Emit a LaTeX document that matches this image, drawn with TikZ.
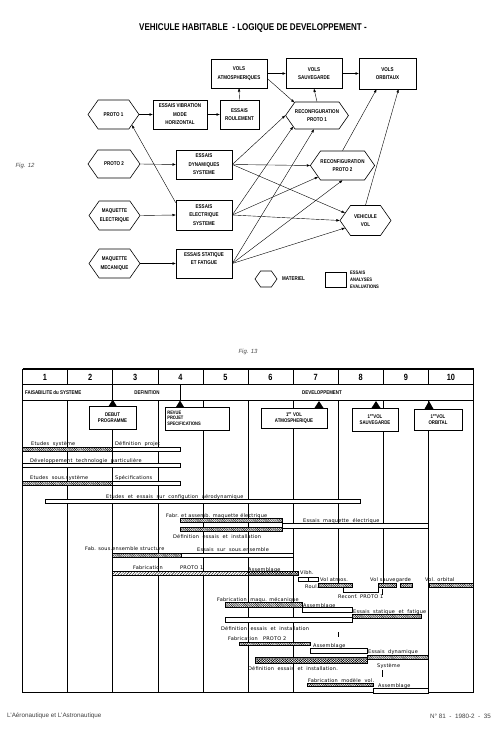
\documentclass[tikz,border=0pt]{standalone}
\usepackage{fontspec}
\setmainfont{Liberation Sans}
\newfontfamily\cond[FakeStretch=0.82]{Liberation Sans}
\newfontfamily\gfont[LetterSpace=4]{DejaVu Sans}
\usetikzlibrary{shapes.symbols,arrows.meta,patterns.meta}
\tikzset{
  boxf/.style={font=\cond\bfseries\fontsize{5.5}{8.4}\selectfont},
  box/.style={boxf, draw, line width=0.6pt, fill=white, inner sep=0pt, align=center},
  hex/.style={boxf, signal, signal to=east and west, signal pointer angle=110, draw, line width=0.6pt, fill=white, inner sep=0pt, align=center},
  arr/.style={-{Triangle[length=3.2pt,width=2.4pt]}, line width=0.4pt},
  mk/.style={draw, line width=0.7pt, fill=white, inner sep=0pt, align=center, font=\cond\bfseries\fontsize{5.3}{6.5}\selectfont},
  gt/.style={anchor=base west, inner sep=0pt, font=\gfont\fontsize{5}{6}\selectfont},
  wbar/.style={draw, fill=white, line width=0.5pt},
  hbar/.style={draw, line width=0.5pt, preaction={fill=white}, pattern={Lines[angle=-45,distance=1.3pt,line width=0.4pt]}},
  sbar/.style={draw, line width=0.5pt, preaction={fill=white}, pattern={Lines[angle=45,distance=2pt,line width=0.4pt]}},
  xbar/.style={draw, line width=0.5pt, preaction={fill=white}, pattern={Hatch[angle=45,distance=1.8pt,line width=0.4pt]}},
  tri/.style={fill=black},
  grid/.style={line width=0.5pt},
}
\begin{document}
\begin{tikzpicture}[x=1pt,y=-1pt]
\useasboundingbox (0,0) rectangle (500,738);
\fill[white] (0,0) rectangle (500,738);

% ---------------- Fig 12 ----------------
\node[font=\cond\bfseries\fontsize{9.8}{10}\selectfont, inner sep=0] (title) at (253,28) {VEHICULE HABITABLE\ \ - LOGIQUE DE DEVELOPPEMENT -};
\node[font=\itshape\fontsize{6}{7}\selectfont, text=black!70, inner sep=0] (fig12) at (25,166) {Fig. 12};
\node[font=\itshape\fontsize{6}{7}\selectfont, text=black!70, inner sep=0] (fig13) at (248,352) {Fig. 13};

\node[box, minimum width=56, minimum height=29] (va) at (239,73.5) {VOLS\\ATMOSPHERIQUES};
\node[box, minimum width=56, minimum height=30] (vs) at (314,73.5) {VOLS\\SAUVEGARDE};
\node[box, minimum width=57, minimum height=31] (vo) at (387.5,73.5) {VOLS\\ORBITAUX};
\node[box, minimum width=54, minimum height=29] (evib) at (180,114.5) {ESSAIS VIBRATION\\MODE\\HORIZONTAL};
\node[box, minimum width=39, minimum height=29] (erou) at (239.5,114.5) {ESSAIS\\ROULEMENT};
\node[box, minimum width=56, minimum height=29] (edyn) at (204,164.5) {ESSAIS\\DYNAMIQUES\\SYSTEME};
\node[box, minimum width=56, minimum height=30] (eelec) at (204,215) {ESSAIS\\ELECTRIQUE\\SYSTEME};
\node[box, minimum width=56, minimum height=29] (estat) at (204,263.5) {};
\node[boxf, align=center, inner sep=0, anchor=north] (estatt) at (204,252.5) {ESSAIS STATIQUE\\ET FATIGUE};

\node[hex, minimum width=51, minimum height=29] (p1) at (113.5,114.5) {PROTO 1};
\node[hex, minimum width=52, minimum height=28] (p2) at (114,164) {PROTO 2};
\node[hex, minimum width=51, minimum height=29] (me) at (114.5,215.5) {MAQUETTE\\ELECTRIQUE};
\node[hex, minimum width=51, minimum height=29] (mm) at (114.5,263.5) {MAQUETTE\\MECANIQUE};
\node[hex, minimum width=58, minimum height=27] (rp1) at (317,115.5) {RECONFIGURATION\\PROTO 1};
\node[hex, minimum width=59, minimum height=29] (rp2) at (342.5,165.5) {RECONFIGURATION\\PROTO 2};
\node[hex, minimum width=51, minimum height=30] (vv) at (365.5,220.5) {VEHICULE\\VOL};

\node[hex, minimum width=22, minimum height=16] (lh) at (266,279) {};
\node[boxf, anchor=west, inner sep=0] (lht) at (282,279) {MATERIEL};
\node[box, minimum width=21, minimum height=15] (lr) at (335.5,279.5) {};
\node[boxf, font=\cond\bfseries\fontsize{5}{7}\selectfont, anchor=west, align=left, inner sep=0] (lrt) at (350,279.5) {ESSAIS\\ANALYSES\\EVALUATIONS};

\draw[arr] (p1.east) -- (evib.west);
\draw[arr] (evib.east) -- (erou.west);
\draw[arr] (erou.north) -- (va.south);
\draw[arr] (va.east) -- (vs.west);
\draw[arr] (vs.east) -- (vo.west);
\draw[arr] ([yshift=-5pt]va.east) -- (rp1.150);
\draw[arr] (rp1.north) -- (vs.south);
\draw[arr] ([yshift=-3pt]eelec.north west) -- (p1.-30);
\draw[arr] (p2.east) -- (edyn.west);
\draw[arr] (me.east) -- (eelec.west);
\draw[arr] (mm.east) -- (estat.west);
\draw[arr] (edyn.east) -- (rp1.west);
\draw[arr] (edyn.east) -- (rp2.west);
\draw[arr] (edyn.east) -- (vv.160);
\draw[arr] (eelec.east) -- (rp1.205);
\draw[arr] (eelec.east) -- (rp2.205);
\draw[arr] (eelec.east) -- (vv.west);
\draw[arr] (estat.east) -- ([xshift=-3pt]rp1.south);
\draw[arr] (estat.east) -- (rp2.south);
\draw[arr] (estat.east) -- (vv.200);
\draw[arr] (rp2.north) -- ([xshift=-11pt]vo.south);
\draw[arr] (vv.north) -- ([xshift=11pt]vo.south);

% ---------------- Fig 13 ----------------
\foreach \i in {1,...,9} {
  \draw[grid] ({22.5+45.1*\i},369) -- ({22.5+45.1*\i},384);
}
\foreach \i in {1,2,3,4,5,6,9} {
  \draw[grid] ({22.5+45.1*\i},400) -- ({22.5+45.1*\i},692);
}
\draw[grid] (338.2,400) -- (338.2,583);
\draw[grid] (383.3,400) -- (383.3,583);
\draw[grid] (338.2,632) -- (338.2,637);
\draw[grid] (382.5,589) -- (382.5,595);
\draw[grid] (382.5,670) -- (382.5,677);
\draw[grid] (112.7,384) -- (112.7,400);
\draw[grid] (180,384) -- (180,401);
\draw[line width=1.3pt] (22.5,369) -- (473.5,369);
\draw[line width=0.6pt] (22.5,384) -- (473.5,384);
\draw[line width=1pt] (22.5,400) -- (473.5,400);
\draw[line width=0.7pt] (22.5,369) -- (22.5,692) -- (473.5,692) -- (473.5,369);

\foreach \n [count=\k] in {1,...,10} {
  \node[font=\cond\bfseries\fontsize{9}{10}\selectfont, inner sep=0] (num\k) at ({45+45.1*(\k-1)},377) {\n};
}
\node[font=\cond\bfseries\fontsize{5.4}{6}\selectfont, anchor=west, inner sep=0] (ph1) at (25,392.5) {FAISABILITE du SYSTEME};
\node[font=\cond\bfseries\fontsize{5.4}{6}\selectfont, inner sep=0] (ph2) at (147,392.5) {DEFINITION};
\node[font=\cond\bfseries\fontsize{5.4}{6}\selectfont, inner sep=0] (ph3) at (322,392.5) {DEVELOPPEMENT};

% markers
\node[mk, minimum width=47, minimum height=23] (mk1) at (112.5,417.5) {DEBUT\\PROGRAMME};
\fill[tri] (112.7,399.5) -- (116.7,406) -- (108.7,406) -- cycle;
\node[mk, minimum width=64, minimum height=23] (mk2) at (197,418.5) {};
\node[mk, draw=none, fill=none, anchor=west, align=left, font=\cond\bfseries\fontsize{4.9}{5.6}\selectfont] (mk2t) at (167,418) {REVUE\\PROJET\\SPECIFICATIONS};
\fill[tri] (180,400.5) -- (184,407) -- (176,407) -- cycle;
\node[mk, minimum width=66, minimum height=20] (mk3) at (294,418) {1\textsuperscript{er} VOL\\ATMOSPHERIQUE};
\fill[tri] (319,401) -- (323.5,408) -- (314.5,408) -- cycle;
\node[mk, minimum width=46, minimum height=23] (mk4) at (375,419.5) {1\textsuperscript{er}VOL\\SAUVEGARDE};
\fill[tri] (376,401) -- (380.5,408) -- (371.5,408) -- cycle;
\node[mk, minimum width=48, minimum height=21] (mk5) at (438,419.5) {1\textsuperscript{er}VOL\\ORBITAL};
\fill[tri] (429,401) -- (433.5,409) -- (424.5,409) -- cycle;

% bars
\draw[wbar] (22.5,447) rectangle (180,451);
\draw[hbar] (22.5,447) rectangle (112.7,451);
\draw[wbar] (22.5,463) rectangle (180,467);
\draw[wbar] (22.5,481) rectangle (180,485);
\draw[hbar] (22.5,481) rectangle (112.7,485);
\draw[wbar] (45,499) rectangle (360,503);

\draw[hbar] (180,518) rectangle (282,522);
\draw[hbar] (180,527) rectangle (282,531);
\draw[wbar] (282,523) rectangle (428,528);

\draw[wbar] (112.7,553) rectangle (293,557);
\draw[hbar] (112.7,553) rectangle (181,557);

\draw[sbar] (112.7,571) rectangle (248,575);
\draw[xbar] (248,571) rectangle (298,575);
\draw[wbar] (298.5,577) rectangle (308.5,581);
\draw[wbar] (308.5,577) rectangle (318,581);
\draw[line width=0.5pt] (343,587) -- (343,592) -- (378,592) -- (378,587);
\draw[hbar] (318,583) rectangle (352,587);
\draw[hbar] (378,583) rectangle (396,587);
\draw[hbar] (400,583) rectangle (412,587);
\draw[hbar] (429,583) rectangle (473,587);

\draw[hbar] (225,602) rectangle (302,607);
\draw[wbar] (302,607) rectangle (352,612);
\draw[hbar] (352,614) rectangle (421,618);
\draw[wbar] (225,617) rectangle (352,622);

\draw[hbar] (239,642) rectangle (310,645.5);
\draw[wbar] (310,648) rectangle (367,653);
\draw[hbar] (367,655) rectangle (428,659);
\draw[xbar] (255,657) rectangle (367,663);

\draw[hbar] (307,683) rectangle (373,686);
\draw[wbar] (373,688) rectangle (428,693);

% bar texts
\node[gt] (g1) at (31,445) {Etudes\ \ système};
\node[gt] (g2) at (115,445) {Définition\ \ projet};
\node[gt] (g3) at (30,462) {Développement\ \ technologie\ \ particulière};
\node[gt] (g4) at (30,479) {Etudes\ \ sous.système};
\node[gt] (g5) at (115,479) {Spécifications};
\node[gt] (g6) at (106,498) {Etudes\ \ et\ \ essais\ \ sur\ \ configution\ \ aérodynamique};
\node[gt] (g7) at (166,517) {Fabr. et assemb. maquette électrique};
\node[gt] (g8) at (303,522) {Essais\ \ maquette\ \ électrique};
\node[gt] (g9) at (173,538) {Définition\ \ essais\ \ et\ \ installation};
\node[gt] (g10) at (85,550) {Fab. sous.ensemble structure};
\node[gt] (g11) at (197,551) {Essais\ \ sur\ \ sous.ensemble};
\node[gt] (g12) at (133,569) {Fabrication};
\node[gt] (g13) at (180,569) {PROTO 1};
\node[gt] (g14) at (248,571) {Assemblage};
\node[gt] (g15) at (300,574) {Vibh.};
\node[gt] (g16) at (320,581) {Vol atmos.};
\node[gt] (g17) at (370,581) {Vol sauvegarde};
\node[gt] (g18) at (425,581) {Vol. orbital};
\node[gt] (g19) at (305,588) {Roul.};
\node[gt] (g20) at (338,598) {Reconf. PROTO 1};
\node[gt] (g21) at (217,601) {Fabrication\ \ maqu. mécanique};
\node[gt] (g22) at (303,607) {Assemblage};
\node[gt] (g23) at (353,613) {Essais\ \ statique\ \ et\ \ fatigue};
\node[gt] (g24) at (221,630) {Définition\ \ essais\ \ et\ \ installation};
\node[gt] (g25) at (228,640) {Fabrication\ \ \ PROTO 2};
\node[gt] (g26) at (313,647) {Assemblage};
\node[gt] (g27) at (368,653) {Essais\ \ dynamique};
\node[gt] (g28) at (377,667) {Système};
\node[gt] (g29) at (248,670) {Définition\ \ essais\ \ et\ \ installation.};
\node[gt] (g30) at (308,682) {Fabrication\ \ modèle\ \ vol.};
\node[gt] (g31) at (378,687) {Assemblage};

% footer
\node[font=\fontsize{6.3}{7}\selectfont, text=black!75, anchor=west, inner sep=0] (foot1) at (7,716) {L'Aéronautique et L'Astronautique};
\node[font=\fontsize{6.3}{7}\selectfont, text=black!75, anchor=east, inner sep=0] (foot2) at (491,716) {N° 81\ \ -\ \ 1980-2\ \ -\ \ 35};
\end{tikzpicture}
\end{document}
